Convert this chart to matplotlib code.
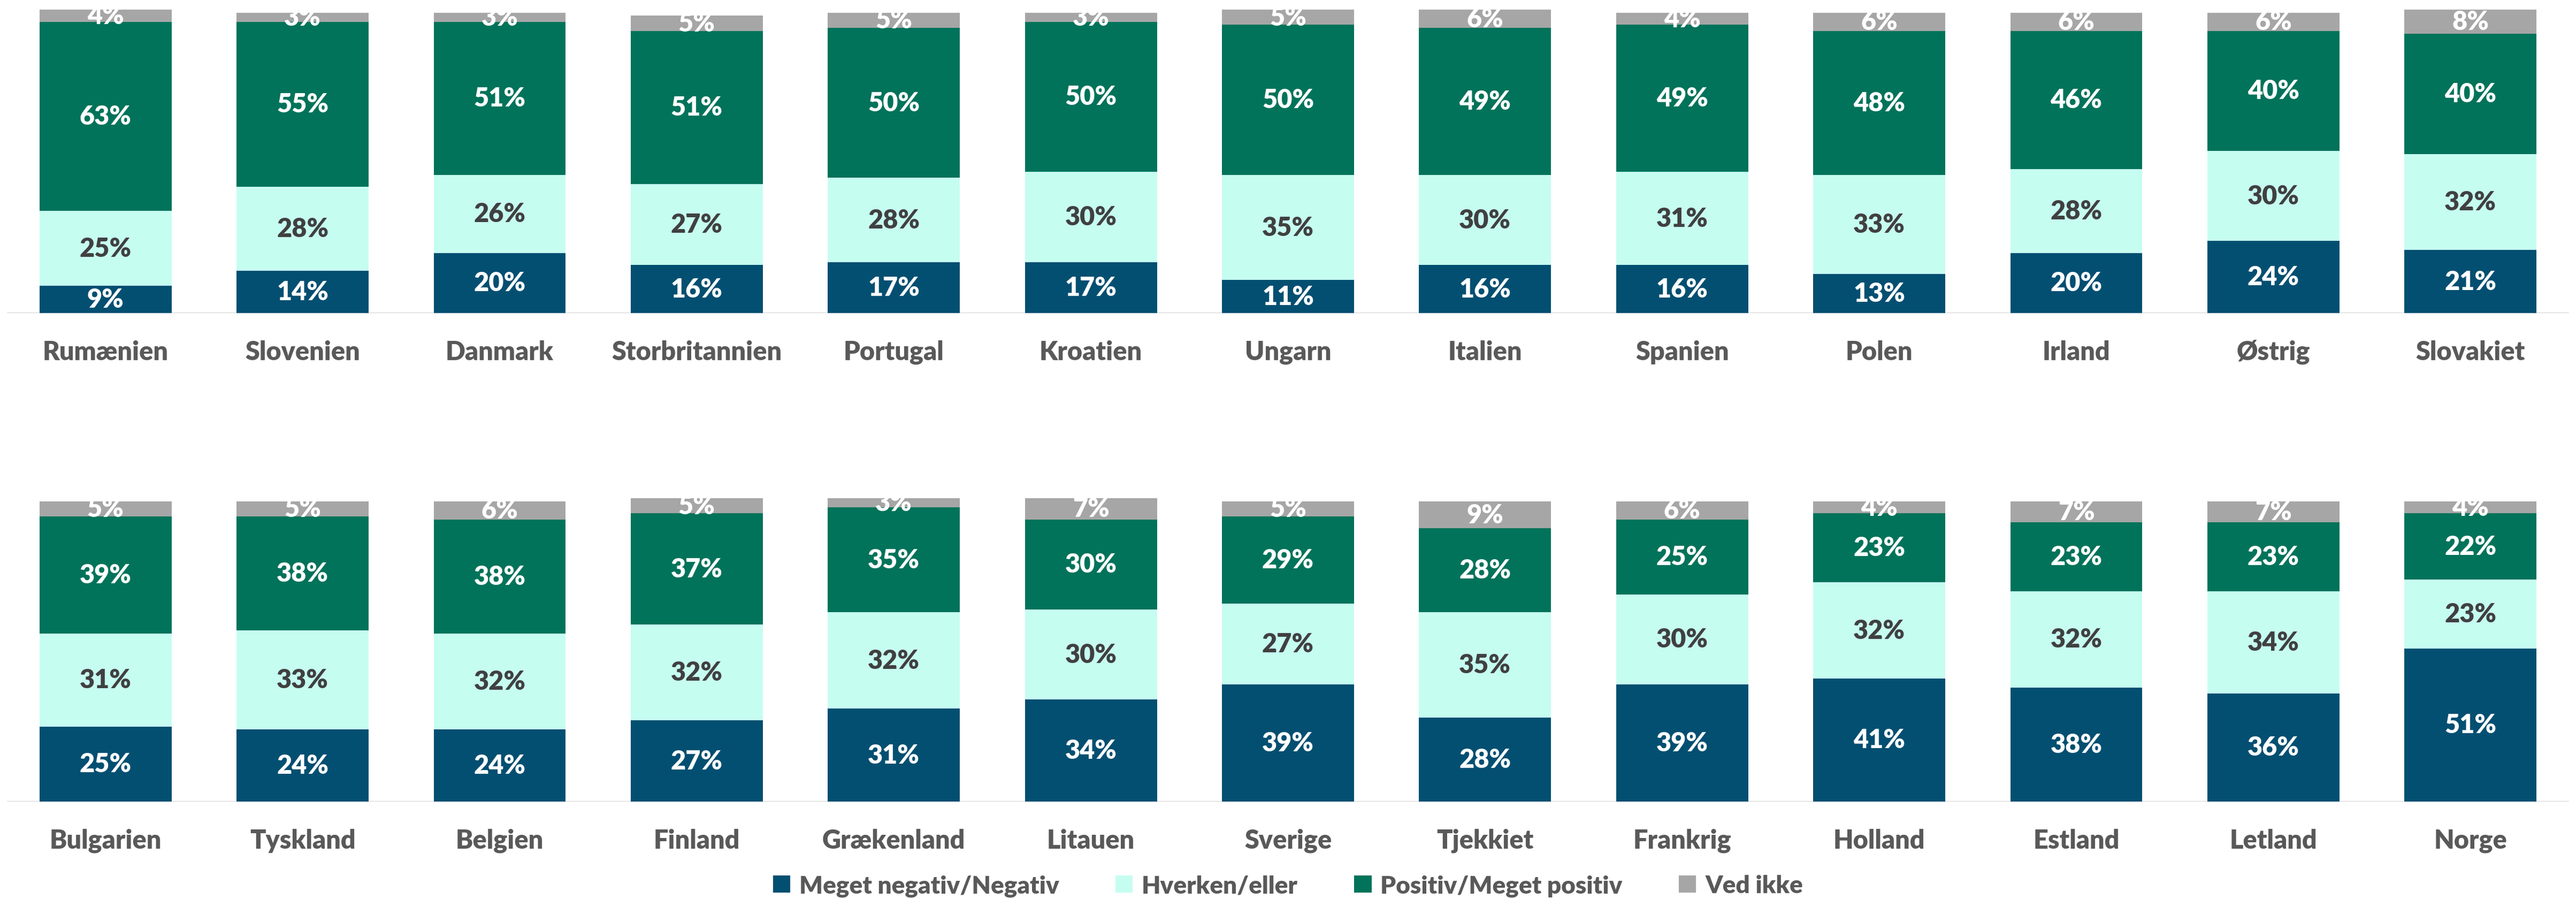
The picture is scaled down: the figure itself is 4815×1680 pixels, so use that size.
import matplotlib
matplotlib.use("Agg")
import matplotlib.pyplot as plt
from matplotlib.patches import Patch
import numpy as np

plt.rcParams['font.family'] = ['Lato', 'DejaVu Sans']

# data (share of respondents, %)
series_names = ["Meget negativ/Negativ", "Hverken/eller", "Positiv/Meget positiv", "Ved ikke"]

countries_top = ["Rumænien", "Slovenien", "Danmark", "Storbritannien", "Portugal", "Kroatien",
                 "Ungarn", "Italien", "Spanien", "Polen", "Irland", "Østrig", "Slovakiet"]
neg_top = [9, 14, 20, 16, 17, 17, 11, 16, 16, 13, 20, 24, 21]
neither_top = [25, 28, 26, 27, 28, 30, 35, 30, 31, 33, 28, 30, 32]
pos_top = [63, 55, 51, 51, 50, 50, 50, 49, 49, 48, 46, 40, 40]
dk_top = [4, 3, 3, 5, 5, 3, 5, 6, 4, 6, 6, 6, 8]

countries_bot = ["Bulgarien", "Tyskland", "Belgien", "Finland", "Grækenland", "Litauen",
                 "Sverige", "Tjekkiet", "Frankrig", "Holland", "Estland", "Letland", "Norge"]
neg_bot = [25, 24, 24, 27, 31, 34, 39, 28, 39, 41, 38, 36, 51]
neither_bot = [31, 33, 32, 32, 32, 30, 27, 35, 30, 32, 32, 34, 23]
pos_bot = [39, 38, 38, 37, 35, 30, 29, 28, 25, 23, 23, 23, 22]
dk_bot = [5, 5, 6, 5, 3, 7, 5, 9, 6, 4, 7, 7, 4]

colors = ["#024F71", "#C6FDF1", "#00735A", "#A6A6A6"]
label_colors = ["white", "#404040", "white", "white"]

W, H = 4815, 1681
fig = plt.figure(figsize=(W / 100, H / 100), dpi=100)


def draw_row(ax, countries, rows):
    x = np.arange(len(countries))
    bottom = np.zeros(len(countries))
    for vals, col, lc in zip(rows, colors, label_colors):
        v = np.array(vals) / 100.0
        ax.bar(x, v, width=0.67, bottom=bottom, color=col, linewidth=0)
        for xi, b, h in zip(x, bottom, v):
            ax.text(xi, b + h / 2, f"{round(h * 100)}%", ha="center", va="center",
                    color=lc, fontsize=35, fontweight="heavy", clip_on=False)
        bottom += v
    for xi, name in zip(x, countries):
        ax.text(xi, -0.155, name, ha="center", va="baseline", color="#595959",
                fontsize=35, fontweight="heavy")
    ax.set_xlim(-0.5, len(countries) - 0.5)
    ax.set_ylim(0, 1.03)
    ax.axhline(0, color="#D9D9D9", linewidth=2.5, zorder=0)
    ax.axis("off")


ax1 = fig.add_axes([13 / W, 1 - 586 / H, 4789 / W, 578 / H])
draw_row(ax1, countries_top, [neg_top, neither_top, pos_top, dk_top])

ax2 = fig.add_axes([13 / W, 1 - 1499 / H, 4789 / W, 578 / H])
draw_row(ax2, countries_bot, [neg_bot, neither_bot, pos_bot, dk_bot])

handles = [Patch(facecolor=c, edgecolor="none") for c in colors]
leg = fig.legend(handles, series_names, loc="center", bbox_to_anchor=(0.5, 1 - 1656 / H),
                 ncol=4, frameon=False, fontsize=33, handlelength=0.7, handleheight=0.7,
                 handletextpad=0.37, columnspacing=2.3)
for t in leg.get_texts():
    t.set_color("#595959")
    t.set_fontweight("heavy")

fig.savefig("out.png", dpi=100, facecolor="white")
